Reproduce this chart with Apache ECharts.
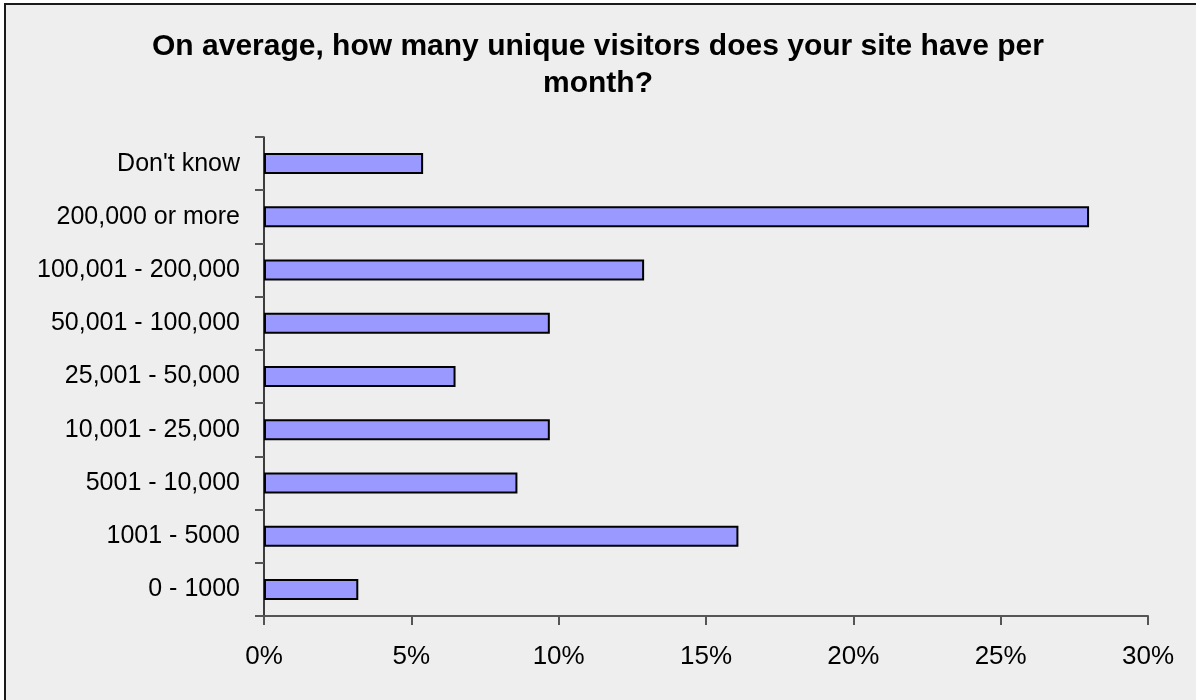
<!DOCTYPE html>
<html>
<head>
<meta charset="utf-8">
<script src="https://cdn.jsdelivr.net/npm/echarts@6/dist/echarts.min.js"></script>
<style>
  html, body { margin: 0; padding: 0; background: #ffffff; }
  #chart { width: 1196px; height: 700px; }
</style>
</head>
<body>
<div id="chart"></div>
<script>
// Visitor bands, listed bottom to top as they appear on the axis
const categories = [
  '0 - 1000',
  '1001 - 5000',
  '5001 - 10,000',
  '10,001 - 25,000',
  '25,001 - 50,000',
  '50,001 - 100,000',
  '100,001 - 200,000',
  '200,000 or more',
  "Don't know"
];
// Share of respondents (%)
const shares = [3.2, 16.1, 8.6, 9.7, 6.5, 9.7, 12.9, 28.0, 5.4];
// Percentage axis ticks
const tickValues = [0, 5, 10, 15, 20, 25, 30];

const titleLines = ['On average, how many unique visitors does your site have per', 'month?'];

const chart = echarts.init(document.getElementById('chart'), null, { renderer: 'canvas' });

chart.setOption({
  backgroundColor: '#ffffff',
  animation: false,
  graphic: [
    {
      type: 'rect',
      z: -10,
      silent: true,
      shape: { x: 5, y: 4, width: 1220, height: 720 },
      style: { fill: '#eeeeee', stroke: '#1a1a1a', lineWidth: 2 }
    }
  ],
  title: {
    text: titleLines.join('\n'),
    left: 'center',
    top: 23,
    textStyle: {
      fontFamily: 'Liberation Sans, Arial, sans-serif',
      fontWeight: 'bold',
      fontSize: 30,
      lineHeight: 37,
      color: '#000000'
    }
  },
  grid: {
    left: 264,
    right: 48,
    top: 137,
    bottom: 84,
    containLabel: false
  },
  xAxis: {
    type: 'value',
    min: tickValues[0],
    max: tickValues[tickValues.length - 1],
    interval: 5,
    axisLine: { show: true, lineStyle: { color: '#555555', width: 2 } },
    axisTick: { show: true, length: 9, lineStyle: { color: '#555555', width: 2 } },
    splitLine: { show: false },
    axisLabel: {
      margin: 28,
      formatter: v => v + '%',
      fontFamily: 'Liberation Sans, Arial, sans-serif',
      fontSize: 26,
      color: '#000000'
    }
  },
  yAxis: {
    type: 'category',
    data: categories,
    axisLine: { show: true, lineStyle: { color: '#000000', width: 1.5 } },
    axisTick: { show: true, length: 9, lineStyle: { color: '#555555', width: 2 } },
    axisLabel: {
      margin: 24,
      fontFamily: 'Liberation Sans, Arial, sans-serif',
      fontSize: 25,
      color: '#000000'
    }
  },
  series: [
    {
      type: 'bar',
      data: shares,
      barWidth: 21,
      itemStyle: {
        color: '#9999ff',
        borderColor: '#000000',
        borderWidth: 2
      }
    }
  ]
});
</script>
</body>
</html>
